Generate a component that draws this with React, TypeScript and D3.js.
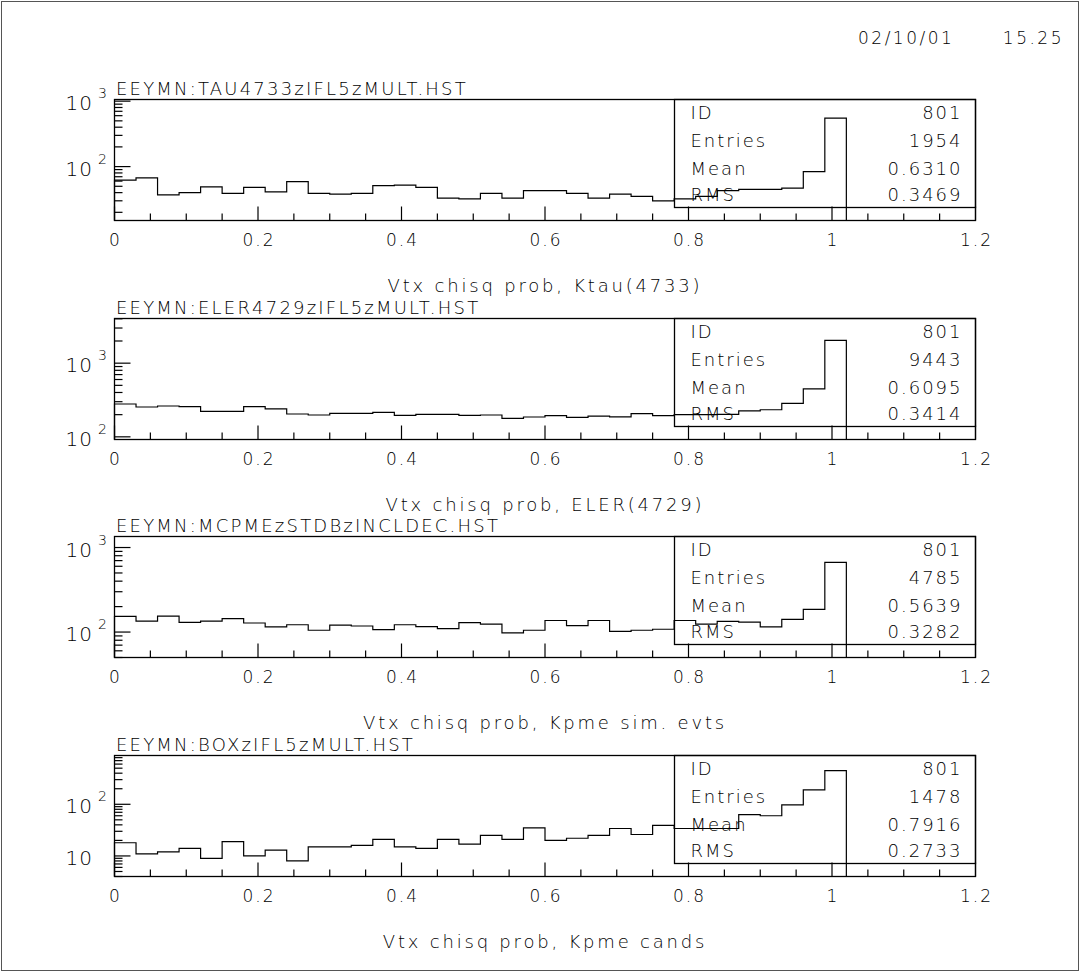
import React, { useEffect, useRef } from "react";
import * as d3 from "d3";

// histogram binning: 34 bins of 0.03 from 0 to 1.02
const binLow = 0;
const binHigh = 1.02;

const tauCounts = [62, 67, 37, 40, 49, 39, 48, 41, 59, 39, 38, 39, 51, 52, 48, 33, 32, 39, 33, 43, 43, 39, 33, 38, 35, 30, 32, 35, 43, 45, 45, 47, 84, 550];
const elerCounts = [279, 254, 262, 257, 221, 221, 257, 239, 204, 198, 208, 208, 215, 195, 202, 202, 195, 198, 178, 186, 194, 184, 191, 187, 206, 194, 200, 200, 202, 225, 233, 285, 448, 2041];
const mcpCounts = [153, 135, 154, 130, 135, 144, 128, 115, 122, 105, 121, 118, 107, 122, 116, 110, 129, 124, 98, 105, 137, 119, 137, 102, 105, 108, 137, 124, 134, 131, 115, 141, 185, 666];
const boxCounts = [18, 11, 12, 14, 9, 19, 10, 13, 8, 15, 15, 16, 21, 15, 14, 21, 17, 25, 21, 35, 20, 22, 25, 34, 26, 39, 34, 34, 34, 63, 60, 97, 190, 450];

const titles = [
  "EEYMN:TAU4733zIFL5zMULT.HST",
  "EEYMN:ELER4729zIFL5zMULT.HST",
  "EEYMN:MCPMEzSTDBzINCLDEC.HST",
  "EEYMN:BOXzIFL5zMULT.HST",
];
const xLabels = [
  "Vtx chisq prob, Ktau(4733)",
  "Vtx chisq prob, ELER(4729)",
  "Vtx chisq prob, Kpme sim. evts",
  "Vtx chisq prob, Kpme cands",
];
const yDomains: [number, number][] = [
  [15, 1060],
  [92, 4040],
  [50, 1350],
  [4, 880],
];
const statLabels = ["ID", "Entries", "Mean", "RMS"];
const statValues = [
  ["801", "1954", "0.6310", "0.3469"],
  ["801", "9443", "0.6095", "0.3414"],
  ["801", "4785", "0.5639", "0.3282"],
  ["801", "1478", "0.7916", "0.2733"],
];
const xTicks = [0, 0.2, 0.4, 0.6, 0.8, 1, 1.2];
const xTickLabels = ["0", "0.2", "0.4", "0.6", "0.8", "1", "1.2"];
const dateText = "02/10/01";
const timeText = "15.25";

const allCounts = [tauCounts, elerCounts, mcpCounts, boxCounts];

export default function App() {
  const ref = useRef<SVGSVGElement>(null);

  useEffect(() => {
    if (!ref.current) return;
    const svg = d3.select(ref.current);
    svg.selectAll("*").remove();

    const W = 1080, H = 972;
    const font = "'DejaVu Sans', sans-serif";
    const ink = "#000";
    const weight = 300;

    svg.append("rect").attr("width", W).attr("height", H).attr("fill", "#fff");
    svg.append("rect")
      .attr("x", 1.5).attr("y", 1.5)
      .attr("width", W - 3).attr("height", H - 3)
      .attr("fill", "none").attr("stroke", "#555").attr("stroke-width", 1);

    // date / time
    svg.append("text").attr("x", 858).attr("y", 44)
      .attr("font-family", font).attr("font-weight", weight).attr("font-size", 17).attr("letter-spacing", 2.5)
      .attr("fill", ink).text(dateText);
    svg.append("text").attr("x", 1064).attr("y", 44).attr("text-anchor", "end")
      .attr("font-family", font).attr("font-weight", weight).attr("font-size", 17).attr("letter-spacing", 2.5)
      .attr("fill", ink).text(timeText);

    const x = d3.scaleLinear().domain([0, 1.2]).range([114.5, 975.5]);
    const nBins = tauCounts.length;
    const edges = d3.range(nBins + 1).map(i => binLow + (i * (binHigh - binLow)) / nBins);

    const panelTop0 = 99;
    const panelStep = 218.7;
    const panelH = 121;
    const statsW = 301;
    const statsH = 108;
    const rowBase = [19.5, 47.5, 75.5, 101.5];

    allCounts.forEach((counts, p) => {
      const top = Math.round(panelTop0 + p * panelStep) + 0.5;
      const bottom = top + panelH;
      const g = svg.append("g");

      const y = d3.scaleLog().domain(yDomains[p]).range([bottom, top]);

      // frame
      g.append("rect")
        .attr("x", x(0)).attr("y", top)
        .attr("width", x(1.2) - x(0)).attr("height", panelH)
        .attr("fill", "none").attr("stroke", "#000").attr("stroke-width", 1.3);

      // stats box
      const sx = x(1.2) - statsW;
      g.append("rect")
        .attr("x", sx).attr("y", top)
        .attr("width", statsW).attr("height", statsH)
        .attr("fill", "none").attr("stroke", "#000").attr("stroke-width", 1.3);

      statLabels.forEach((lab, r) => {
        g.append("text").attr("x", sx + 16).attr("y", top + rowBase[r])
          .attr("font-family", font).attr("font-weight", weight).attr("font-size", 18).attr("letter-spacing", 2)
          .attr("fill", ink).text(lab);
        g.append("text").attr("x", x(1.2) - 13).attr("y", top + rowBase[r])
          .attr("text-anchor", "end")
          .attr("font-family", font).attr("font-weight", weight).attr("font-size", 18).attr("letter-spacing", 2)
          .attr("fill", ink).text(statValues[p][r]);
      });

      // histogram outline
      const pts: [number, number][] = [[x(edges[0]), bottom]];
      counts.forEach((c, i) => {
        pts.push([x(edges[i]), y(c)]);
        pts.push([x(edges[i + 1]), y(c)]);
      });
      pts.push([x(edges[nBins]), bottom]);
      g.append("path")
        .attr("d", d3.line()(pts))
        .attr("fill", "none").attr("stroke", "#000").attr("stroke-width", 1.2);

      // x ticks
      const minor = d3.range(0, 1.2001, 0.05);
      minor.forEach(v => {
        const isMajor = Math.abs(v / 0.2 - Math.round(v / 0.2)) < 1e-6;
        g.append("line")
          .attr("x1", x(v)).attr("x2", x(v))
          .attr("y1", bottom).attr("y2", bottom - (isMajor ? 14 : 7))
          .attr("stroke", "#000").attr("stroke-width", 1.2);
      });
      xTicks.forEach((v, i) => {
        g.append("text").attr("x", x(v) + 1).attr("y", bottom + 25)
          .attr("text-anchor", "middle")
          .attr("font-family", font).attr("font-weight", weight).attr("font-size", 17).attr("letter-spacing", 2)
          .attr("fill", ink).text(xTickLabels[i]);
      });

      // y ticks (log)
      const [lo, hi] = yDomains[p];
      const kLo = Math.floor(Math.log10(lo));
      const kHi = Math.ceil(Math.log10(hi));
      for (let k = kLo; k <= kHi; k++) {
        for (let m = 1; m <= 9; m++) {
          const v = m * Math.pow(10, k);
          if (v < lo || v > hi) continue;
          g.append("line")
            .attr("x1", x(0)).attr("x2", x(0) + (m === 1 ? 16 : 8))
            .attr("y1", y(v)).attr("y2", y(v))
            .attr("stroke", "#000").attr("stroke-width", 1.2);
          if (m === 1) {
            g.append("text").attr("x", 93).attr("y", y(v) + 9)
              .attr("text-anchor", "end")
              .attr("font-family", font).attr("font-weight", weight).attr("font-size", 20).attr("letter-spacing", 1)
              .attr("fill", ink).text("10");
            if (k > 1) {
              g.append("text").attr("x", 98).attr("y", y(v) - 3)
                .attr("font-family", font).attr("font-weight", weight).attr("font-size", 14)
                .attr("fill", ink).text(String(k));
            }
          }
        }
      }

      // title and axis label
      g.append("text").attr("x", 116).attr("y", top - 4.5)
        .attr("font-family", font).attr("font-weight", weight).attr("font-size", 18).attr("letter-spacing", 2.2)
        .attr("fill", ink).text(titles[p]);
      g.append("text").attr("x", x(0.6)).attr("y", bottom + 71)
        .attr("text-anchor", "middle")
        .attr("font-family", font).attr("font-weight", weight).attr("font-size", 18).attr("letter-spacing", 2.8)
        .attr("fill", ink).text(xLabels[p]);
    });
  }, []);

  return (
    <svg
      ref={ref}
      width={1080}
      height={972}
      style={{ position: "absolute", left: 0, top: 0, display: "block" }}
    />
  );
}
